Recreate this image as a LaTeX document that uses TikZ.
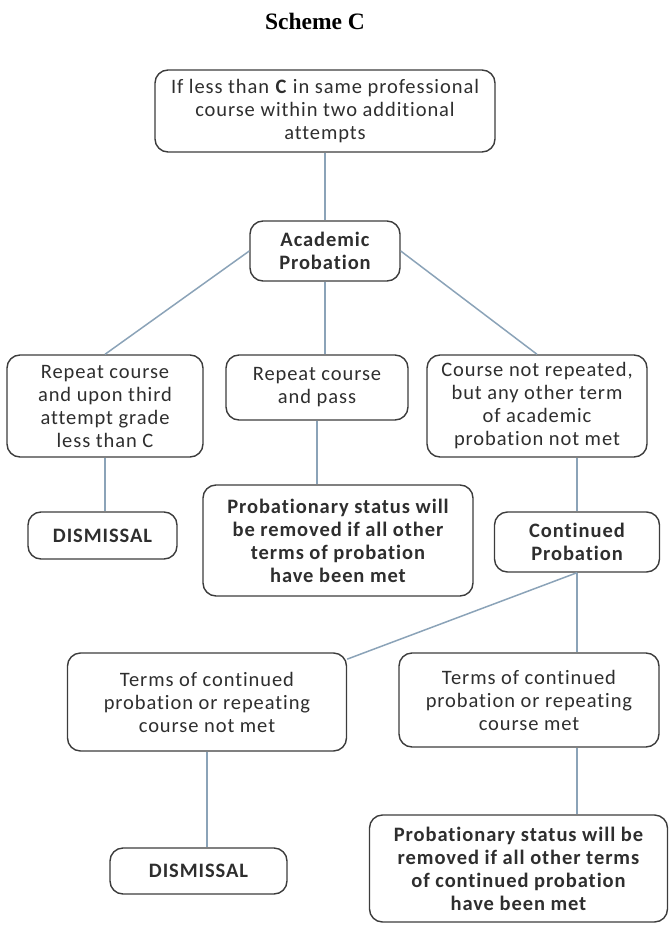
\documentclass[tikz,border=0pt]{standalone}
\usepackage{fontspec}
\setmainfont{Carlito}[LetterSpace=4.5,Ligatures=NoCommon]
\newfontfamily\titlefamily{Liberation Serif}
\definecolor{boxline}{HTML}{3C3C3C}
\definecolor{linkline}{HTML}{8BA3B8}
\definecolor{boxtext}{HTML}{2E2E2E}

\begin{document}
\begin{tikzpicture}[x=1pt,y=-1pt,
		box/.style={draw=boxline,line width=1.4pt,rounded corners=13pt,align=center,inner sep=0pt,text=boxtext,font=\fontsize{20.5}{23}\selectfont},
		boldbox/.style={box,font=\fontsize{20.5}{23}\selectfont\bfseries},
		link/.style={draw=linkline,line width=1.5pt}]
			\useasboundingbox (0,0) rectangle (669,925);
			\node[text=black] (title) at (315,21) {\titlefamily\fontsize{23.5}{26}\selectfont\bfseries Scheme C};
			% first level
			\node[box,minimum width=340pt,minimum height=82pt] (top) at (325,111) {If less than \textbf{C} in same professional\\course within two additional\\attempts};
			\node[boldbox,minimum width=150pt,minimum height=60pt] (acad) at (325,251) {Academic\\Probation};
			% three outcomes
			\node[box,minimum width=196pt,minimum height=102pt] (repeat) at (105,406) {Repeat course\\and upon third\\attempt grade\\less than C};
			\node[box,minimum width=182pt,minimum height=65pt] (pass) at (317,387.5) {Repeat course\\and pass};
			\node[box,minimum width=220pt,minimum height=102pt] (notrep) at (537,406) {Course not repeated,\\but any other term\\of academic\\probation not met};
			\node[boldbox,minimum width=149pt,minimum height=47pt] (dism1) at (102.5,535.5) {DISMISSAL};
			\node[boldbox,minimum width=270pt,minimum height=111pt] (status1) at (338,540.5) {Probationary status will\\be removed if all other\\terms of probation\\have been met};
			\node[boldbox,minimum width=165pt,minimum height=60pt] (contprob) at (577,542) {Continued\\Probation};
			% continued probation
			\node[box,minimum width=279pt,minimum height=98pt] (termsno) at (207,702) {Terms of continued\\probation or repeating\\course not met};
			\node[box,minimum width=260pt,minimum height=94pt] (termsyes) at (529,700) {Terms of continued\\probation or repeating\\course met};
			\node[boldbox,minimum width=177pt,minimum height=46pt] (dism2) at (198.5,871) {DISMISSAL};
			\node[boldbox,minimum width=298pt,minimum height=107pt] (status2) at (518.5,868.5) {Probationary status will be\\removed if all other terms\\of continued probation\\have been met};
			% connectors
			\draw[link] (top) -- (acad);
			\draw[link] (acad.west) -- (repeat.north);
			\draw[link] (acad.south) -- (acad.south |- pass.north);
			\draw[link] (acad.east) -- (notrep.north);
			\draw[link] (repeat.south) -- (repeat.south |- dism1.north);
			\draw[link] (pass.south) -- (pass.south |- status1.north);
			\draw[link] (contprob.north |- notrep.south) -- (contprob.north);
			\draw[link] (contprob.south) -- (contprob.south |- termsyes.north);
			\draw[link] (contprob.south) -- (termsno.17);
			\draw[link] (termsno.south) -- (termsno.south |- dism2.north);
			\draw[link] (termsyes.south -| contprob.south) -- (status2.north -| contprob.south);
		\end{tikzpicture}
\end{document}
